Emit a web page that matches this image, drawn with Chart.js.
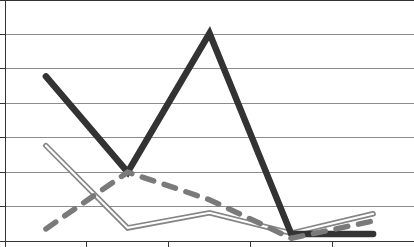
<!DOCTYPE html>
<html>
<head>
<meta charset="utf-8">
<script src="https://cdn.jsdelivr.net/npm/chart.js@4/dist/chart.umd.min.js"></script>
<style>
  html, body { margin: 0; padding: 0; background: #fff; }
  #chart { display: block; }
</style>
</head>
<body>
<canvas id="chart" width="414" height="247"></canvas>
<script>
// data
const categories = ["1", "2", "3", "4", "5"];
const seriesSolid = [4.78, 2.0, 6.03, 0.2, 0.2];
const seriesDouble = [2.77, 0.38, 0.82, 0.23, 0.79];
const seriesDashed = [0.35, 2.0, 1.2, 0.08, 0.58];
const yTicks = [0, 1, 2, 3, 4, 5, 6, 7];

const ctx = document.getElementById("chart").getContext("2d");

new Chart(ctx, {
  type: "line",
  data: {
    labels: categories,
    datasets: [
      // double line = thick gray stroke with thin white core
      {
        data: seriesDouble,
        borderColor: "#858585",
        borderWidth: 5.5,
        pointRadius: 0,
        tension: 0,
        borderCapStyle: "round",
        order: 5,
      },
      {
        data: seriesDouble,
        borderColor: "#ffffff",
        borderWidth: 2.2,
        pointRadius: 0,
        tension: 0,
        borderCapStyle: "round",
        order: 4,
      },
      {
        data: seriesSolid,
        borderColor: "#333333",
        borderWidth: 6.5,
        pointRadius: 0,
        tension: 0,
        borderCapStyle: "round",
        order: 3,
      },
      {
        data: seriesDashed,
        borderColor: "#7a7a7a",
        borderWidth: 5.5,
        borderDash: [12, 11],
        pointRadius: 0,
        tension: 0,
        borderCapStyle: "round",
        order: 2,
      },
    ],
  },
  options: {
    responsive: false,
    devicePixelRatio: 1,
    animation: false,
    layout: { padding: 0 },
    plugins: { legend: { display: false }, tooltip: { enabled: false } },
    scales: {
      x: {
        offset: true,
        border: { color: "#333", width: 1 },
        grid: {
          offset: true,
          drawOnChartArea: false,
          drawTicks: true,
          tickLength: 6,
          color: "#333",
        },
        ticks: { display: false },
      },
      y: {
        min: yTicks[0],
        max: yTicks[yTicks.length - 1],
        afterBuildTicks: axis => { axis.ticks = yTicks.map(v => ({ value: v })); },
        border: { color: "#333", width: 1 },
        grid: {
          color: ctx2 => (ctx2.tick && ctx2.tick.value === 7 ? "#333" : "#8c8c8c"),
          tickColor: "#333",
          drawTicks: true,
          tickLength: 5,
        },
        ticks: { display: false },
      },
    },
  },
});
</script>
</body>
</html>
